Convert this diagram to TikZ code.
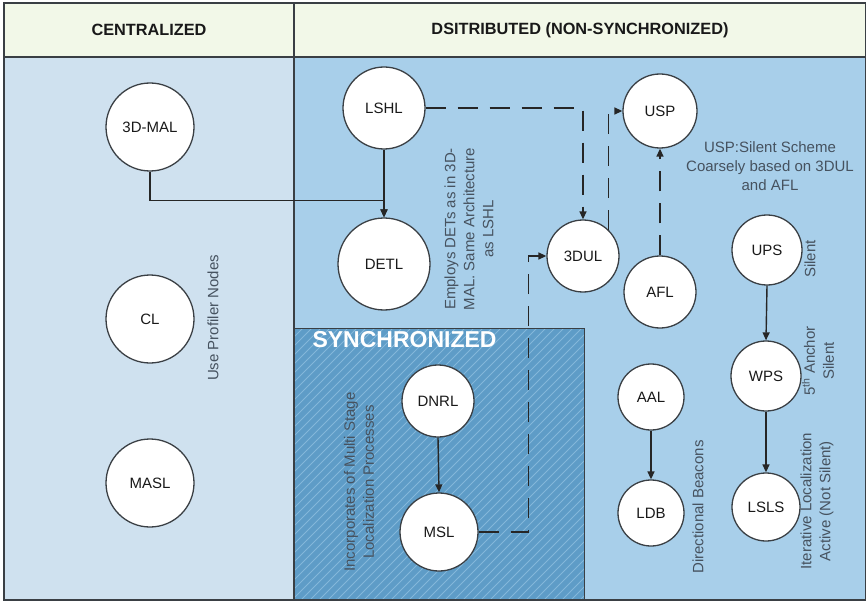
\documentclass[tikz,border=0pt]{standalone}
\usepackage{fontspec}
\setmainfont{Liberation Sans}
\usetikzlibrary{arrows.meta}

\definecolor{headfill}{HTML}{F2F8E8}
\definecolor{leftfill}{HTML}{CFE1EF}
\definecolor{rightfill}{HTML}{A8CFEA}
\definecolor{syncfill}{HTML}{5E9CC7}
\definecolor{hatchcol}{HTML}{84B7DA}
\definecolor{framecol}{HTML}{3A3F44}
\definecolor{notecol}{HTML}{46525F}

\begin{document}
\begin{tikzpicture}[x=1pt,y=-1pt,
  every node/.style={font=\fontsize{15}{19}\selectfont},
  station/.style={circle,draw=framecol,line width=1.3pt,fill=white,inner sep=0pt,text=black!90},
  link/.style={line width=1.4pt,draw=black!85,-{Triangle[length=8pt,width=7pt]}},
  dlink/.style={link,dash pattern=on 20pt off 12pt},
  note/.style={text=notecol,align=center},
  vnote/.style={note,rotate=90},
  heading/.style={font=\fontsize{16.3}{18}\selectfont\bfseries,text=black!90}
]
\useasboundingbox (0,0) rectangle (867,604);

% panels
\fill[headfill] (4,3) rectangle (866,57);
\fill[leftfill] (4,57) rectangle (294,600);
\fill[rightfill] (294,57) rectangle (866,600);

% synchronized region with hatching
\fill[syncfill] (294,328) rectangle (584,600);
\begin{scope}
  \clip (294,328) rectangle (584,600);
  \foreach \i in {-290,-281,...,300}
    \draw[hatchcol,line width=1pt] ({294+\i},600) -- ++(300,-300);
\end{scope}
\draw[framecol,line width=1pt] (294,328) -- (584,328) -- (584,600);

% frame and dividers
\draw[framecol,line width=1.3pt] (4,3) rectangle (865.5,600);
\draw[framecol,line width=1.3pt] (4,57) -- (865.5,57);
\draw[framecol,line width=1.3pt] (294,3) -- (294,600);

% headings
\node[heading] (hcent) at (149,30) {CENTRALIZED};
\node[heading] (hdist) at (580,30) {DSITRIBUTED (NON-SYNCHRONIZED)};
\node[anchor=base west,text=white,font=\fontsize{23}{25}\selectfont\bfseries] (hsync) at (309,347) {SYNCHRONIZED};

% stations
\node[station,minimum size=88pt] (mal)  at (150,127) {3D-MAL};
\node[station,minimum size=88pt] (cl)   at (150,319) {CL};
\node[station,minimum size=88pt] (masl) at (150,483) {MASL};
\node[station,minimum size=82pt] (lshl) at (384,108) {LSHL};
\node[station,minimum size=92pt] (detl) at (384,264) {DETL};
\node[station,minimum size=72pt] (dul)  at (583,256) {3DUL};
\node[station,minimum size=74pt] (usp)  at (660,111) {USP};
\node[station,minimum size=72pt] (afl)  at (660,292) {AFL};
\node[station,minimum size=70pt] (ups)  at (767,250) {UPS};
\node[station,minimum size=70pt] (wps)  at (766,376) {WPS};
\node[station,minimum size=68pt] (lsls) at (766,507) {LSLS};
\node[station,minimum size=66pt] (aal)  at (651,397) {AAL};
\node[station,minimum size=66pt] (ldb)  at (651,513) {LDB};
\node[station,minimum size=72pt] (dnrl) at (438,401) {DNRL};
\node[station,minimum size=78pt] (msl)  at (439,532) {MSL};

% connectors
\draw[link] (mal.south) -- ++(0,29) -| (detl.north);
\draw[link] (lshl.south) -- (detl.north);
\draw[dlink] (lshl.east) -| (dul.north);
\draw[dlink] (msl.east) -- ++(50,0) |- (dul.west);
\draw[dlink] (dul.46) |- (usp.west);
\draw[dlink] (afl.north) -- (usp.south);
\draw[link] (ups.south) -- (wps.north);
\draw[link] (wps.south) -- (lsls.north);
\draw[link] (aal.south) -- (ldb.north);
\draw[link] (dnrl.south) -- (msl.north);

% annotations
\node[vnote] (nprof) at (213,318) {Use Profiler Nodes};
\node[vnote] (ndet) at (469,229) {Employs DETs as in 3D-\\MAL. Same Architecture\\as LSHL};
\node[vnote] (nmulti) at (359,482) {Incorporates of Multi Stage\\Localization Processes};
\node[note] (nusp) at (770,166) {USP:Silent Scheme\\Coarsely based on 3DUL\\and AFL};
\node[vnote] (nups) at (810,259) {Silent};
\node[vnote] (nwps) at (818,361) {5\textsuperscript{th} Anchor\\Silent};
\node[vnote] (nbeac) at (698,507) {Directional Beacons};
\node[vnote] (niter) at (817,501) {Iterative Localization\\Active (Not Silent)};
\end{tikzpicture}
\end{document}
